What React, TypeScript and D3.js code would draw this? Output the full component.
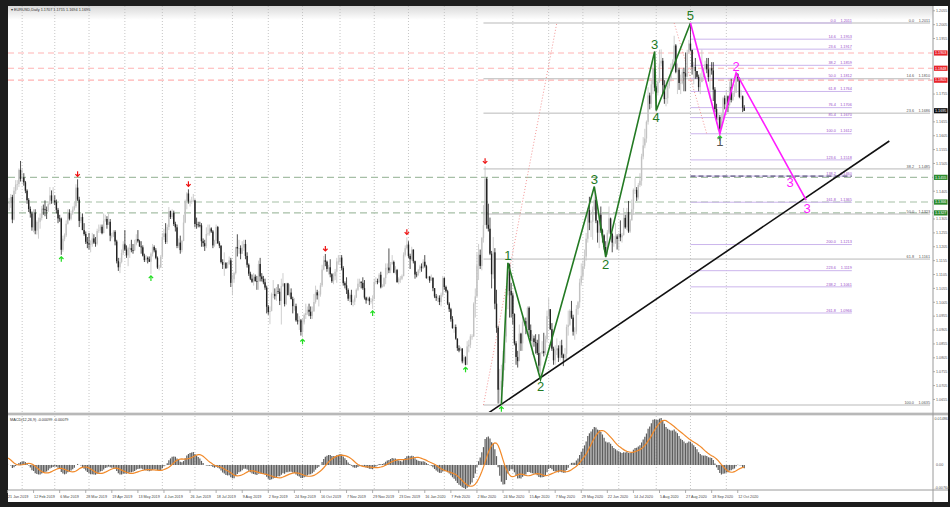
import React from "react";
import * as d3 from "d3";

// ---------- DATA (EURUSD daily, prices x 10000) ----------
const firstDate = "2019-01-21";
const holidays = ["2019-12-25", "2020-01-01"];

// closes before the visible range (used only to warm up MACD)
const warmupCloses = [11348, 11365, 11375, 11439, 11370, 11370, 11423, 11430, 11443, 11466, 11345, 11391, 11395, 11474, 11441, 11542, 11502, 11467, 11469, 11413, 11393, 11392, 11365];

const closes = [
  // 2019 Jan
  11362, 11362, 11384, 11303, 11407, 11429, 11431, 11482, 11449,
  // Feb
  11455, 11437, 11407, 11373, 11341, 11325, 11275, 11328, 11263, 11294, 11295, 11309, 11342, 11340, 11337, 11336, 11359, 11390, 11371, 11372,
  // Mar
  11365, 11338, 11307, 11306, 11194, 11234, 11246, 11288, 11327, 11306, 11325, 11339, 11351, 11418, 11375, 11298, 11312, 11265, 11251, 11223, 11217,
  // Apr
  11213, 11214, 11235, 11220, 11216, 11262, 11264, 11277, 11254, 11299, 11305, 11284, 11295, 11245, 11245, 11259, 11224, 11153, 11131, 11150, 11183, 11214,
  // May
  11195, 11174, 11200, 11200, 11193, 11192, 11214, 11233, 11225, 11206, 11203, 11173, 11157, 11165, 11160, 11151, 11180, 11204, 11192, 11165, 11130, 11130, 11169,
  // Jun
  11240, 11253, 11222, 11276, 11333, 11312, 11327, 11287, 11275, 11208, 11220, 11193, 11226, 11292, 11370, 11397, 11368, 11368, 11369, 11372,
  // Jul
  11287, 11285, 11283, 11282, 11225, 11218, 11207, 11251, 11253, 11271, 11260, 11210, 11226, 11276, 11218, 11209, 11150, 11140, 11146, 11128, 11142, 11156, 11075,
  // Aug
  11088, 11110, 11204, 11199, 11200, 11180, 11202, 11215, 11172, 11140, 11108, 11090, 11079, 11097, 11081, 11080, 11143, 11098, 11089, 11077, 11058, 10989,
  // Sep
  10970, 10973, 11034, 11035, 11027, 11045, 11043, 11010, 11064, 11073, 10999, 11073, 11031, 11040, 11017, 10991, 10991, 10940, 10936, 10940, 10898,
  // Oct
  10933, 10959, 10966, 10978, 10971, 10956, 10973, 11006, 11041, 11030, 11033, 11066, 11123, 11156, 11151, 11125, 11131, 11106, 11081, 11099, 11115, 11152, 11152,
  // Nov
  11166, 11128, 11074, 11066, 11049, 11018, 11032, 11006, 11007, 11022, 11050, 11072, 11079, 11075, 11056, 11022, 11012, 11019, 11009, 11009, 11017,
  // Dec
  11078, 11081, 11077, 11104, 11059, 11063, 11092, 11129, 11130, 11120, 11143, 11150, 11112, 11121, 11078, 11090, 11090, 11099, 11176, 11200, 11213,
  // 2020 Jan
  11172, 11160, 11195, 11153, 11105, 11104, 11120, 11134, 11128, 11151, 11135, 11092, 11097, 11083, 11093, 11056, 11026, 11021, 11021, 11006, 11032, 11092,
  // Feb
  11060, 11045, 11000, 10980, 10944, 10912, 10916, 10874, 10840, 10831, 10838, 10792, 10807, 10780, 10846, 10852, 10882, 10882, 11000, 11026,
  // Mar
  11138, 11176, 11136, 11237, 11283, 11450, 11284, 11270, 11180, 11106, 11185, 11000, 10913, 10690, 10695, 10722, 10786, 10882, 11030, 11141, 11046, 11030,
  // Apr
  10963, 10857, 10808, 10793, 10892, 10857, 10935, 10937, 10913, 10985, 10905, 10866, 10875, 10862, 10858, 10822, 10777, 10820, 10829, 10822, 10872, 10955,
  // May
  10980, 10908, 10838, 10796, 10832, 10839, 10805, 10850, 10816, 10804, 10819, 10916, 10924, 10974, 10950, 10899, 10900, 10981, 11005, 11076, 11100,
  // Jun
  11135, 11170, 11234, 11337, 11292, 11295, 11340, 11374, 11299, 11256, 11320, 11264, 11246, 11204, 11177, 11256, 11307, 11251, 11220, 11220, 11242, 11233,
  // Jul
  11251, 11239, 11247, 11309, 11275, 11330, 11260, 11300, 11340, 11410, 11410, 11383, 11427, 11443, 11530, 11570, 11595, 11655, 11750, 11720, 11790, 11847, 11778,
  // Aug
  11760, 11799, 11865, 11875, 11787, 11737, 11740, 11785, 11813, 11840, 11870, 11930, 11835, 11843, 11795, 11795, 11834, 11830, 11818, 11905, 11937,
  // Sep
  11914, 11852, 11853, 11838, 11817, 11780, 11798, 11815, 11846, 11863, 11844, 11816, 11848, 11840, 11771, 11701, 11661, 11672, 11630, 11665, 11740, 11718,
  // Oct
  11747, 11716, 11781, 11734, 11760, 11760, 11827, 11813, 11745, 11747, 11706, 11695,
];

const highs = [
  11386, 11381, 11395, 11392, 11420, 11445, 11445, 11487, 11514,
  11488, 11470, 11442, 11412, 11380, 11350, 11332, 11340, 11340, 11300, 11310, 11325, 11352, 11357, 11372, 11350, 11369, 11420, 11408, 11420,
  11390, 11375, 11345, 11320, 11310, 11245, 11253, 11300, 11340, 11340, 11335, 11350, 11365, 11430, 11448, 11385, 11325, 11325, 11290, 11260, 11240,
  11255, 11228, 11255, 11250, 11240, 11270, 11285, 11285, 11285, 11325, 11320, 11315, 11325, 11305, 11255, 11265, 11265, 11230, 11165, 11165, 11195, 11225,
  11265, 11210, 11205, 11215, 11230, 11215, 11230, 11250, 11265, 11230, 11225, 11210, 11180, 11175, 11170, 11170, 11185, 11215, 11210, 11200, 11170, 11140, 11175,
  11255, 11270, 11290, 11285, 11348, 11335, 11340, 11335, 11295, 11285, 11235, 11245, 11230, 11320, 11375, 11402, 11412, 11375, 11385, 11395,
  11375, 11310, 11295, 11295, 11290, 11235, 11230, 11275, 11285, 11285, 11275, 11265, 11230, 11285, 11280, 11225, 11210, 11160, 11185, 11150, 11150, 11170, 11165,
  11105, 11115, 11205, 11250, 11230, 11210, 11225, 11230, 11230, 11185, 11145, 11115, 11105, 11110, 11105, 11100, 11155, 11165, 11110, 11100, 11090, 11065,
  10995, 10990, 11040, 11085, 11055, 11060, 11070, 11055, 11090, 11110, 11060, 11075, 11075, 11070, 11055, 11025, 11020, 11000, 10965, 10955, 10945,
  10945, 10965, 11000, 10990, 11000, 10990, 10990, 11035, 11065, 11050, 11045, 11075, 11140, 11172, 11179, 11155, 11140, 11160, 11110, 11110, 11125, 11165, 11175,
  11175, 11175, 11135, 11080, 11095, 11055, 11040, 11050, 11015, 11030, 11055, 11090, 11090, 11080, 11095, 11085, 11025, 11025, 11025, 11020, 11030,
  11090, 11095, 11090, 11110, 11115, 11070, 11095, 11145, 11145, 11199, 11150, 11175, 11155, 11135, 11125, 11095, 11100, 11105, 11185, 11210, 11239,
  11225, 11180, 11205, 11195, 11155, 11115, 11125, 11140, 11145, 11160, 11175, 11140, 11100, 11100, 11105, 11095, 11055, 11035, 11030, 11030, 11040, 11100,
  11095, 11065, 11050, 11005, 10985, 10955, 10925, 10925, 10875, 10850, 10845, 10840, 10815, 10810, 10865, 10870, 10890, 10890, 11005, 11055,
  11185, 11215, 11195, 11240, 11355, 11495, 11455, 11360, 11310, 11190, 11240, 11200, 11050, 10920, 10765, 10780, 10830, 10890, 11055, 11147, 11145, 11075,
  11040, 10965, 10865, 10830, 10925, 10895, 10955, 10950, 10950, 10990, 10990, 10925, 10890, 10885, 10890, 10870, 10890, 10825, 10865, 10895, 10885, 10975,
  11020, 10980, 10930, 10845, 10850, 10875, 10850, 10865, 10870, 10820, 10840, 10925, 10975, 10980, 11010, 10960, 10915, 10995, 11010, 11090, 11145,
  11155, 11195, 11255, 11345, 11385, 11300, 11350, 11422, 11385, 11300, 11325, 11350, 11270, 11250, 11225, 11265, 11350, 11310, 11255, 11245, 11290, 11250,
  11255, 11300, 11255, 11345, 11320, 11345, 11370, 11305, 11375, 11415, 11452, 11420, 11435, 11470, 11540, 11600, 11630, 11660, 11780, 11760, 11805, 11885, 11908,
  11785, 11805, 11915, 11916, 11885, 11805, 11805, 11795, 11820, 11865, 11880, 11965, 11935, 11865, 11850, 11825, 11845, 11850, 11905, 11915, 11950,
  12011, 11915, 11870, 11885, 11835, 11825, 11830, 11915, 11850, 11875, 11885, 11885, 11850, 11870, 11870, 11780, 11720, 11685, 11680, 11685, 11745, 11750,
  11770, 11750, 11800, 11810, 11765, 11790, 11831, 11830, 11815, 11770, 11750, 11715,
];

const lows = [
  11351, 11335, 11345, 11290, 11300, 11395, 11410, 11420, 11440,
  11437, 11425, 11398, 11360, 11330, 11310, 11263, 11257, 11250, 11249, 11234, 11270, 11300, 11320, 11315, 11305, 11330, 11355, 11360, 11360,
  11355, 11325, 11290, 11295, 11176, 11187, 11225, 11240, 11285, 11300, 11300, 11320, 11335, 11345, 11370, 11276, 11290, 11265, 11245, 11215, 11200,
  11195, 11185, 11205, 11215, 11205, 11210, 11255, 11255, 11250, 11255, 11295, 11270, 11285, 11225, 11235, 11240, 11210, 11145, 11118, 11110, 11145, 11175,
  11190, 11165, 11135, 11165, 11185, 11180, 11190, 11210, 11220, 11205, 11180, 11170, 11150, 11150, 11145, 11150, 11107, 11170, 11185, 11160, 11125, 11120, 11130,
  11165, 11230, 11215, 11215, 11265, 11305, 11305, 11280, 11260, 11200, 11200, 11180, 11185, 11225, 11290, 11340, 11360, 11350, 11360, 11365,
  11275, 11270, 11275, 11275, 11205, 11205, 11190, 11200, 11245, 11245, 11255, 11200, 11205, 11215, 11215, 11200, 11145, 11125, 11100, 11125, 11130, 11140, 11060,
  11030, 11075, 11105, 11170, 11180, 11160, 11180, 11190, 11160, 11130, 11100, 11085, 11075, 11065, 11080, 11050, 11050, 11080, 11080, 11070, 11050, 10965,
  10960, 10926, 10975, 11020, 11015, 11010, 11035, 10995, 10925, 11060, 10990, 10995, 11030, 11025, 11015, 10965, 10975, 10935, 10925, 10905, 10885,
  10879, 10925, 10945, 10960, 10955, 10945, 10945, 10970, 11000, 11015, 10990, 11025, 11060, 11120, 11135, 11115, 11105, 11095, 11075, 11070, 11085, 11075, 11140,
  11140, 11120, 11065, 11055, 11035, 11010, 11005, 10995, 10990, 10995, 11020, 11045, 11060, 11055, 11050, 11015, 11000, 11010, 10995, 11000, 10981,
  11015, 11070, 11070, 11075, 11055, 11060, 11060, 11070, 11105, 11110, 11110, 11140, 11110, 11105, 11075, 11070, 11075, 11085, 11100, 11170, 11195,
  11165, 11125, 11155, 11145, 11090, 11095, 11100, 11110, 11115, 11125, 11130, 11090, 11085, 11075, 11085, 11045, 11020, 11010, 11005, 10995, 10990, 11025,
  11050, 11040, 10995, 10970, 10935, 10910, 10895, 10870, 10830, 10825, 10830, 10785, 10785, 10778, 10780, 10825, 10840, 10870, 10880, 10950,
  11025, 11085, 11125, 11120, 11220, 11315, 11270, 11260, 11175, 11055, 11090, 10980, 10895, 10640, 10640, 10636, 10700, 10760, 10860, 10980, 10950, 10950,
  10925, 10850, 10780, 10770, 10795, 10830, 10830, 10920, 10890, 10905, 10880, 10855, 10815, 10845, 10820, 10815, 10755, 10727, 10820, 10810, 10815, 10860,
  10945, 10905, 10830, 10780, 10780, 10815, 10790, 10795, 10805, 10775, 10795, 10800, 10885, 10920, 10945, 10885, 10870, 10890, 10960, 10985, 11065,
  11085, 11125, 11155, 11220, 11265, 11240, 11230, 11335, 11290, 11220, 11200, 11255, 11220, 11195, 11168, 11175, 11250, 11245, 11185, 11205, 11215, 11195,
  11190, 11225, 11220, 11245, 11270, 11265, 11255, 11255, 11300, 11320, 11395, 11370, 11375, 11420, 11425, 11520, 11560, 11580, 11645, 11700, 11705, 11755, 11765,
  11696, 11750, 11795, 11855, 11755, 11720, 11711, 11720, 11775, 11800, 11835, 11865, 11830, 11755, 11770, 11755, 11790, 11765, 11765, 11815, 11900,
  11910, 11825, 11790, 11810, 11810, 11765, 11755, 11800, 11820, 11840, 11830, 11800, 11740, 11825, 11730, 11690, 11650, 11625, 11612, 11630, 11660, 11700,
  11700, 11690, 11710, 11725, 11730, 11745, 11760, 11800, 11740, 11735, 11690, 11694,
];

// Elliott wave annotations (date, price)
const greenWave: [string, number][] = [
  ["2020-03-23", 1.0636], ["2020-03-27", 1.1147], ["2020-04-24", 1.0727], ["2020-06-10", 1.1422],
  ["2020-06-19", 1.1168], ["2020-07-31", 1.1908], ["2020-08-03", 1.1696], ["2020-09-01", 1.2011],
];
const greenWaveLabels = ["", "1", "2", "3", "2", "3", "4", "5"];
const magentaWave: [string, number][] = [
  ["2020-09-01", 1.2011], ["2020-09-25", 1.1612], ["2020-10-09", 1.1831], ["2020-12-09", 1.1373],
];
const trendLine: [string, number][] = [["2020-03-11", 1.0606], ["2021-02-18", 1.1586]];

// Fibonacci retracement (grey): 0 = 1.2011, 100 = 1.0635
const greyFibLevels = [0, 14.6, 23.6, 38.2, 50.0, 61.8, 100.0];
const greyFibHigh = 1.2011, greyFibLow = 1.0635;
const greyFibDiag: [string, number][] = [["2020-03-06", 1.0635], ["2020-05-08", 1.2011]];
// Fibonacci (purple): 0 = 1.2011, 100 = 1.1612
const purpleFibLevels = [0, 14.6, 23.6, 38.2, 50.0, 61.8, 76.4, 85.4, 100.0, 123.6, 138.2, 161.8, 200.0, 223.6, 238.2, 261.8];
const purpleFibHigh = 1.2011, purpleFibLow = 1.1612;
const purpleFibSpan: [string, string] = ["2020-09-01", "2021-01-18"];
const purpleFibDiag: [string, number][] = [["2020-08-18", 1.2011], ["2020-09-15", 1.1612]];

const redLevels = [1.1903, 1.1848, 1.1805];
const greenLevels = [1.1455, 1.1366, 1.1327];
const bidPrice = 1.1695;

const redArrowDates = ["2019-03-21", "2019-06-25", "2019-10-21", "2019-12-31", "2020-03-09"];
const greenArrowDates = ["2019-03-07", "2019-05-23", "2019-10-01", "2019-11-29", "2020-02-20", "2020-03-23", "2020-09-25"];

const headerText = "EURUSD,Daily  1.1707 1.1715 1.1694 1.1695";
const macdText = "MACD(12,26,9) -0.00099 -0.00079";

// ---------- helpers ----------
const fmtDay = d3.utcFormat("%Y-%m-%d");
const fmtLabel = d3.utcFormat("%-d %b %Y");
const tradingDays: Date[] = (() => {
  const out: Date[] = [];
  const hol = new Set(holidays);
  let d = d3.utcParse("%Y-%m-%d")(firstDate)!;
  while (out.length < 620) {
    const wd = d.getUTCDay();
    if (wd !== 0 && wd !== 6 && !hol.has(fmtDay(d))) out.push(d);
    d = d3.utcDay.offset(d, 1);
  }
  return out;
})();
const dayIndex = new Map(tradingDays.map((d, i) => [fmtDay(d), i]));
const idx = (s: string) => dayIndex.get(s) ?? 0;

function ema(vals: number[], n: number) {
  const k = 2 / (n + 1);
  const out: number[] = [];
  vals.forEach((v, i) => out.push(i === 0 ? v : v * k + out[i - 1] * (1 - k)));
  return out;
}

export default function App() {
  const N = closes.length;
  const L = 8, R = 933, T = 6, MB = 412, MT = 416, MBOT = 489;
  const x = d3.scaleLinear().domain([0, 452]).range([7.5, 7.5 + 452 * 1.63]);
  const y = d3.scaleLinear().domain([1.0635, 1.2011]).range([405, 23]);

  const bars = closes.map((c, i) => {
    const o = (i === 0 ? warmupCloses[warmupCloses.length - 1] : closes[i - 1]) / 10000;
    const cc = c / 10000;
    const h = Math.max(highs[i] / 10000, o, cc);
    const l = Math.min(lows[i] / 10000, o, cc);
    return { i, o, c: cc, h, l };
  });

  // MACD
  const all = [...warmupCloses, ...closes].map((v) => v / 10000);
  const e12 = ema(all, 12), e26 = ema(all, 26);
  const macdAll = all.map((_, i) => e12[i] - e26[i]);
  const sigAll = macdAll.map((_, i) => (i < 8 ? macdAll[i] : d3.mean(macdAll.slice(i - 8, i + 1))!));
  const off = warmupCloses.length;
  const macd = macdAll.slice(off);
  const sig = sigAll.slice(off);
  const mMax = Math.max(d3.max(macd)!, d3.max(sig)!);
  const mMin = Math.min(d3.min(macd)!, d3.min(sig)!);
  const yM = d3.scaleLinear().domain([mMin, mMax]).range([MBOT, MT + 2]);

  const monthStarts = tradingDays
    .slice(0, N)
    .map((d, i) => i)
    .filter((i) => i > 0 && tradingDays[i].getUTCMonth() !== tradingDays[i - 1].getUTCMonth());
  const labelIdx = d3.range(0, N, 16);
  const tagPrices = [...redLevels, ...greenLevels, bidPrice];
  const priceTicks = d3
    .range(10655, 12056, 50)
    .map((v) => v / 10000)
    .filter((p) => tagPrices.every((t) => Math.abs(y(p) - y(t)) > 5));

  const line = d3.line<[string, number]>().x((d) => x(idx(d[0]))).y((d) => y(d[1]));
  const sigLine = d3.line<number>().x((_, i) => x(i)).y((d) => yM(d));

  const font = "Liberation Sans, Arial, sans-serif";
  const tiny = { fontFamily: font, fontSize: 3.8 } as const;
  const axisF = { fontFamily: font, fontSize: 3.7 } as const;
  const greyFibPrice = (lv: number) => greyFibHigh - (lv / 100) * (greyFibHigh - greyFibLow);
  const purpleFibPrice = (lv: number) => purpleFibHigh - (lv / 100) * (purpleFibHigh - purpleFibLow);
  const pfx0 = x(idx(purpleFibSpan[0])), pfx1 = x(idx(purpleFibSpan[1]));
  const gfx0 = x(idx(greyFibDiag[0][0]));

  const waveFont = { fontFamily: font, fontSize: 13 } as const;

  return (
    <svg width={950} height={507} style={{ position: "absolute", left: 0, top: 0, display: "block" }}>
      <defs>
        <clipPath id="mainClip"><rect x={L} y={T} width={R - L} height={MB - T} /></clipPath>
        <clipPath id="macdClip"><rect x={L} y={MT} width={R - L} height={MBOT - MT + 1} /></clipPath>
        <linearGradient id="hdr" x1="0" y1="0" x2="0" y2="1">
          <stop offset="0" stopColor="#d9d9d9" />
          <stop offset="1" stopColor="#ffffff" />
        </linearGradient>
      </defs>
      <rect x={0} y={0} width={950} height={507} fill="#1d1d1d" />
      <rect x={L} y={T} width={948 - L} height={502 - T} fill="#ffffff" />
      <rect x={L} y={T} width={R - L} height={14} fill="url(#hdr)" />

      {/* vertical grid */}
      {monthStarts.map((i) => (
        <g key={"g" + i}>
          <line x1={x(i)} x2={x(i)} y1={T} y2={MB} stroke="#b8b8b8" strokeWidth={0.8} strokeDasharray="1 2" />
          <line x1={x(i)} x2={x(i)} y1={MT} y2={MBOT} stroke="#b8b8b8" strokeWidth={0.8} strokeDasharray="1 2" />
        </g>
      ))}

      <g clipPath="url(#mainClip)">
        {/* horizontal level lines */}
        {redLevels.map((p) => (
          <line key={"r" + p} x1={L} x2={R} y1={y(p)} y2={y(p)} stroke="#ffb3b3" strokeWidth={1.2} strokeDasharray="6 4" />
        ))}
        {greenLevels.map((p) => (
          <line key={"gl" + p} x1={L} x2={R} y1={y(p)} y2={y(p)} stroke="#a6bfa6" strokeWidth={1.1} strokeDasharray="7 4" />
        ))}

        {/* grey fibonacci */}
        {greyFibLevels.map((lv) => (
          <g key={"gf" + lv}>
            <line x1={gfx0} x2={930} y1={y(greyFibPrice(lv))} y2={y(greyFibPrice(lv))} stroke="#b9b9b9" strokeWidth={1} />
            <text x={914} y={y(greyFibPrice(lv)) - 1.3} textAnchor="end" fill="#555" {...tiny}>{lv === 0 ? "0.0" : lv.toFixed(1)}</text>
            <text x={930} y={y(greyFibPrice(lv)) - 1.3} textAnchor="end" fill="#555" {...tiny}>{greyFibPrice(lv).toFixed(4)}</text>
          </g>
        ))}
        <path d={line(greyFibDiag)!} stroke="#f08a8a" strokeWidth={0.9} strokeDasharray="1 2" fill="none" />

        {/* purple fibonacci */}
        {purpleFibLevels.map((lv) => (
          <g key={"pf" + lv}>
            <line x1={pfx0} x2={pfx1} y1={y(purpleFibPrice(lv))} y2={y(purpleFibPrice(lv))} stroke="#cbb5ec" strokeWidth={1} />
            <text x={pfx1 - 16} y={y(purpleFibPrice(lv)) - 1.3} textAnchor="end" fill="#9b4dca" {...tiny}>{lv === 0 ? "0.0" : lv.toFixed(1)}</text>
            <text x={pfx1} y={y(purpleFibPrice(lv)) - 1.3} textAnchor="end" fill="#9b4dca" {...tiny}>{purpleFibPrice(lv).toFixed(4)}</text>
          </g>
        ))}
        <line x1={pfx0} x2={pfx1} y1={y(purpleFibPrice(138.2))} y2={y(purpleFibPrice(138.2))} stroke="#3a3a5e" strokeWidth={1} strokeDasharray="5 3" />
        <path d={line(purpleFibDiag)!} stroke="#f08a8a" strokeWidth={0.9} strokeDasharray="1 2" fill="none" />

        {/* candles */}
        {bars.map((b) => {
          const bull = b.c >= b.o;
          const col = bull ? "#c2c2c2" : "#222222";
          const top = y(Math.max(b.o, b.c));
          const bot = y(Math.min(b.o, b.c));
          return (
            <g key={"c" + b.i}>
              <line x1={x(b.i)} x2={x(b.i)} y1={y(b.h)} y2={y(b.l)} stroke={col} strokeWidth={0.8} />
              <rect x={x(b.i) - 0.7} y={top} width={1.4} height={Math.max(0.7, bot - top)} fill={col} />
            </g>
          );
        })}

        {/* arrows */}
        {redArrowDates.map((d) => {
          const i = idx(d);
          const px = x(i), py = y(bars[i].h) - 3;
          return (
            <g key={"ra" + d} stroke="#ee1111" strokeWidth={1.2} fill="none">
              <line x1={px} x2={px} y1={py - 5} y2={py} />
              <path d={`M${px - 2.2},${py - 2.2} L${px},${py} L${px + 2.2},${py - 2.2}`} />
            </g>
          );
        })}
        {greenArrowDates.map((d) => {
          const i = idx(d);
          const px = x(i), py = y(bars[i].l) + 2;
          return (
            <g key={"ga" + d} stroke="#22dd22" strokeWidth={1.2} fill="none">
              <line x1={px} x2={px} y1={py} y2={py + 5} />
              <path d={`M${px - 2.2},${py + 2.2} L${px},${py} L${px + 2.2},${py + 2.2}`} />
            </g>
          );
        })}

        {/* trend line */}
        <path d={line(trendLine)!} stroke="#111" strokeWidth={1.6} fill="none" />

        {/* waves */}
        <path d={line(greenWave)!} stroke="#237a23" strokeWidth={1.6} fill="none" />
        <path d={line(magentaWave)!} stroke="#ff1cff" strokeWidth={1.6} fill="none" />
      </g>

      {/* wave labels */}
      {greenWave.map((p, k) => {
        const lab = greenWaveLabels[k];
        if (!lab) return null;
        const px = x(idx(p[0]));
        const isPeak = [1, 3, 5, 7].includes(k);
        const py = isPeak ? y(p[1]) - 3 : y(p[1]) + 12;
        return (
          <text key={"wl" + k} x={px} y={py} textAnchor="middle" fill="#237a23" {...waveFont}>{lab}</text>
        );
      })}
      <text x={x(idx(magentaWave[1][0]))} y={y(magentaWave[1][1]) + 12} textAnchor="middle" fill="#555" {...waveFont}>1</text>
      <text x={x(idx(magentaWave[2][0]))} y={y(magentaWave[2][1]) - 2} textAnchor="middle" fill="#ff1cff" {...waveFont}>2</text>
      <text x={x(idx(magentaWave[3][0])) - 16} y={y(magentaWave[3][1]) - 13} textAnchor="middle" fill="#ff1cff" {...waveFont}>3</text>
      <text x={x(idx(magentaWave[3][0])) + 1} y={y(magentaWave[3][1]) + 13} textAnchor="middle" fill="#ff1cff" {...waveFont}>3</text>

      {/* header */}
      <text x={11} y={10.5} fill="#333" {...tiny}>{"▾ " + headerText}</text>

      {/* panel separator */}
      <rect x={L} y={MB} width={948 - L} height={MT - MB} fill="#e6e6e6" />
      <line x1={L} x2={948} y1={MB + 2} y2={MB + 2} stroke="#a8a8a8" strokeWidth={1.5} />

      {/* MACD */}
      <g clipPath="url(#macdClip)">
        {macd.map((m, i) => (
          <line key={"m" + i} x1={x(i)} x2={x(i)} y1={yM(0)} y2={yM(m)} stroke="#5c5c5c" strokeWidth={1.2} />
        ))}
        <path d={sigLine(sig)!} stroke="#f28a2a" strokeWidth={1.2} fill="none" />
      </g>
      <text x={10} y={421} fill="#333" {...tiny}>{macdText}</text>

      {/* price axis */}
      <line x1={R} x2={R} y1={T} y2={502} stroke="#9a9a9a" strokeWidth={1} />
      {priceTicks.map((p) => (
        <g key={"pt" + p}>
          <line x1={R} x2={R + 2} y1={y(p)} y2={y(p)} stroke="#999" strokeWidth={0.8} />
          <text x={R + 3} y={y(p) + 1.3} fill="#555" {...axisF}>{p.toFixed(4)}</text>
        </g>
      ))}
      {redLevels.map((p) => (
        <g key={"rl" + p}>
          <rect x={R + 1} y={y(p) - 2.6} width={13.5} height={5.2} fill="#e8242a" />
          <text x={R + 2} y={y(p) + 1.3} fill="#fff" {...axisF}>{p.toFixed(4)}</text>
        </g>
      ))}
      {greenLevels.map((p) => (
        <g key={"gll" + p}>
          <rect x={R + 1} y={y(p) - 2.6} width={13.5} height={5.2} fill="#2e8b2e" />
          <text x={R + 2} y={y(p) + 1.3} fill="#fff" {...axisF}>{p.toFixed(4)}</text>
        </g>
      ))}
      <rect x={R + 1} y={y(bidPrice) - 2.6} width={13.5} height={5.2} fill="#111" />
      <text x={R + 2} y={y(bidPrice) + 1.3} fill="#fff" {...axisF}>{bidPrice.toFixed(4)}</text>

      {/* MACD axis */}
      <text x={R + 1.5} y={MT + 3.5} fill="#555" {...axisF}>{mMax.toFixed(5)}</text>
      <text x={R + 3} y={yM(0) + 1.3} fill="#555" {...axisF}>0.00</text>
      <text x={R + 1.5} y={MBOT - 0.5} fill="#555" {...axisF}>{mMin.toFixed(5)}</text>

      {/* time axis */}
      <line x1={L} x2={948} y1={MBOT + 1} y2={MBOT + 1} stroke="#9a9a9a" strokeWidth={1} />
      {labelIdx.map((i) => (
        <g key={"xl" + i}>
          <line x1={x(i)} x2={x(i)} y1={MBOT + 1} y2={MBOT + 4} stroke="#999" strokeWidth={0.8} />
          <text x={x(i) + 0.5} y={MBOT + 9} fill="#444" {...axisF}>{fmtLabel(tradingDays[i])}</text>
        </g>
      ))}
    </svg>
  );
}
